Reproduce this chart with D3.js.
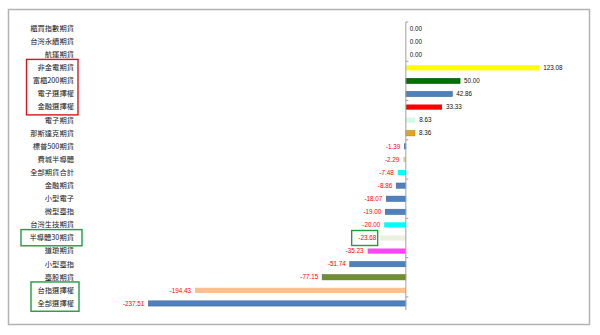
<!DOCTYPE html>
<html>
<head>
<meta charset="utf-8">
<script src="https://cdn.jsdelivr.net/npm/d3@7/dist/d3.min.js"></script>
<style>
  html, body { margin: 0; padding: 0; background: #fff; }
  svg { display: block; }
</style>
</head>
<body>
<svg id="chart" width="600" height="335"></svg>
<script>
// Contract names, top to bottom
const categories = [
  "櫃買指數期貨", "台灣永續期貨", "航運期貨", "非金電期貨", "富櫃200期貨",
  "電子選擇權", "金融選擇權", "電子期貨", "那斯達克期貨", "標普500期貨",
  "費城半導體", "全部期貨合計", "金融期貨", "小型電子", "微型臺指",
  "台灣生技期貨", "半導體30期貨", "道瓊期貨", "小型臺指", "臺股期貨",
  "台指選擇權", "全部選擇權"
];
// Values for each contract
const values = [
  0.00, 0.00, 0.00, 123.08, 50.00,
  42.86, 33.33, 8.63, 8.36, -1.39,
  -2.29, -7.48, -8.86, -18.07, -19.00,
  -20.00, -23.68, -35.23, -51.74, -77.15,
  -194.43, -237.51
];
// Fill colour of each bar
const barColors = [
  "#4f81bd", "#4f81bd", "#4f81bd", "#ffff00", "#007000",
  "#4f81bd", "#ff0000", "#d4fbea", "#e3a41e", "#4f81bd",
  "#c3d69b", "#00ffff", "#4f81bd", "#4f81bd", "#4f81bd",
  "#00ffff", "#ebf1de", "#ff44ff", "#4f81bd", "#6f8f32",
  "#fac090", "#4f81bd"
];
// Categories outlined with a red box (label groups) and green boxes
const redGroup = ["非金電期貨", "金融選擇權"];
const greenSingles = ["半導體30期貨"];
const greenGroup = ["台指選擇權", "全部選擇權"];

const data = categories.map((c, i) => ({ name: c, value: values[i], color: barColors[i] }));

const svg = d3.select("#chart");
const cjk = "'Noto Sans CJK TC', 'Noto Sans CJK SC', sans-serif";
const fmt = v => d3.format(".2f")(v).replace("\u2212", "-");

// outer frame
svg.append("rect")
  .attr("x", 8.5).attr("y", 9.5).attr("width", 581).attr("height", 315)
  .attr("fill", "#fff").attr("stroke", "#b3b3b3").attr("stroke-width", 1.5);

const y = d3.scaleBand().domain(categories).range([22, 310]).paddingInner(0.6).paddingOuter(0.3);
const x = d3.scaleLinear().domain([-237.51, 123.08]).range([148.3, 539.3]);

// category labels
const yAxis = d3.axisLeft(y).tickSize(0).tickPadding(0);
const gy = svg.append("g").attr("transform", "translate(74,0)").call(yAxis);
gy.select(".domain").remove();
gy.selectAll("text")
  .attr("font-family", cjk).attr("font-size", 7.3).attr("fill", "#222");

// bars
const outlined = new Set(["#4f81bd", "#e3a41e", "#007000", "#6f8f32"]);
const darker = c => d3.color(c).darker(0.6).formatHex();
svg.append("g").selectAll("rect").data(data).join("rect")
  .attr("x", d => x(Math.min(0, d.value)))
  .attr("y", d => y(d.name) + y.bandwidth() / 2 - 2.6)
  .attr("width", d => Math.abs(x(d.value) - x(0)))
  .attr("height", 5.2)
  .attr("fill", d => d.color)
  .attr("stroke", d => outlined.has(d.color) ? darker(d.color) : "none")
  .attr("stroke-width", d => d.value === 0 ? 0 : 0.6);

// zero axis with a tick every third category
const zeroX = x(0);
const rowStep = y.step();
const axisTop = y.range()[0];
const axisBottom = y.range()[1];
svg.append("line")
  .attr("x1", zeroX).attr("x2", zeroX).attr("y1", axisTop).attr("y2", axisBottom)
  .attr("stroke", "#a0a0a0").attr("stroke-width", 1);
const tickIdx = d3.range(0, categories.length, 3);
svg.append("g").selectAll("line").data(tickIdx).join("line")
  .attr("x1", zeroX).attr("x2", zeroX + 2.5)
  .attr("y1", i => axisTop + i * rowStep).attr("y2", i => axisTop + i * rowStep)
  .attr("stroke", "#a0a0a0").attr("stroke-width", 1);

// value labels
svg.append("g").selectAll("text").data(data).join("text")
  .attr("x", d => d.value < 0 ? x(d.value) - 4 : x(d.value) + 4)
  .attr("y", d => y(d.name) + y.bandwidth() / 2)
  .attr("dy", "0.35em")
  .attr("text-anchor", d => d.value < 0 ? "end" : "start")
  .attr("font-family", "'Liberation Sans', Arial, sans-serif")
  .attr("font-size", 6.3)
  .attr("fill", d => d.value < 0 ? "#ff0000" : "#111")
  .text(d => fmt(d.value));

// highlight boxes around labels
function labelBox(first, last, x1, x2, color) {
  const yTop = y(first) + y.bandwidth() / 2 - 8.4;
  const yBot = y(last) + y.bandwidth() / 2 + 7.8;
  svg.append("rect")
    .attr("x", x1).attr("y", yTop).attr("width", x2 - x1).attr("height", yBot - yTop)
    .attr("fill", "none").attr("stroke", color).attr("stroke-width", 1.4);
}
labelBox(redGroup[0], redGroup[1], 26.5, 78, "#d9161c");
labelBox(greenSingles[0], greenSingles[0], 21, 82, "#1f9d3f");
labelBox(greenGroup[0], greenGroup[1], 31, 79, "#1f9d3f");

// box around the value label of 半導體30期貨
const hv = data.find(d => d.name === greenSingles[0]);
svg.append("rect")
  .attr("x", x(hv.value) - 28.5).attr("y", y(hv.name) + y.bandwidth() / 2 - 7.5)
  .attr("width", 26).attr("height", 15)
  .attr("fill", "none").attr("stroke", "#1f9d3f").attr("stroke-width", 1.4);
</script>
</body>
</html>
